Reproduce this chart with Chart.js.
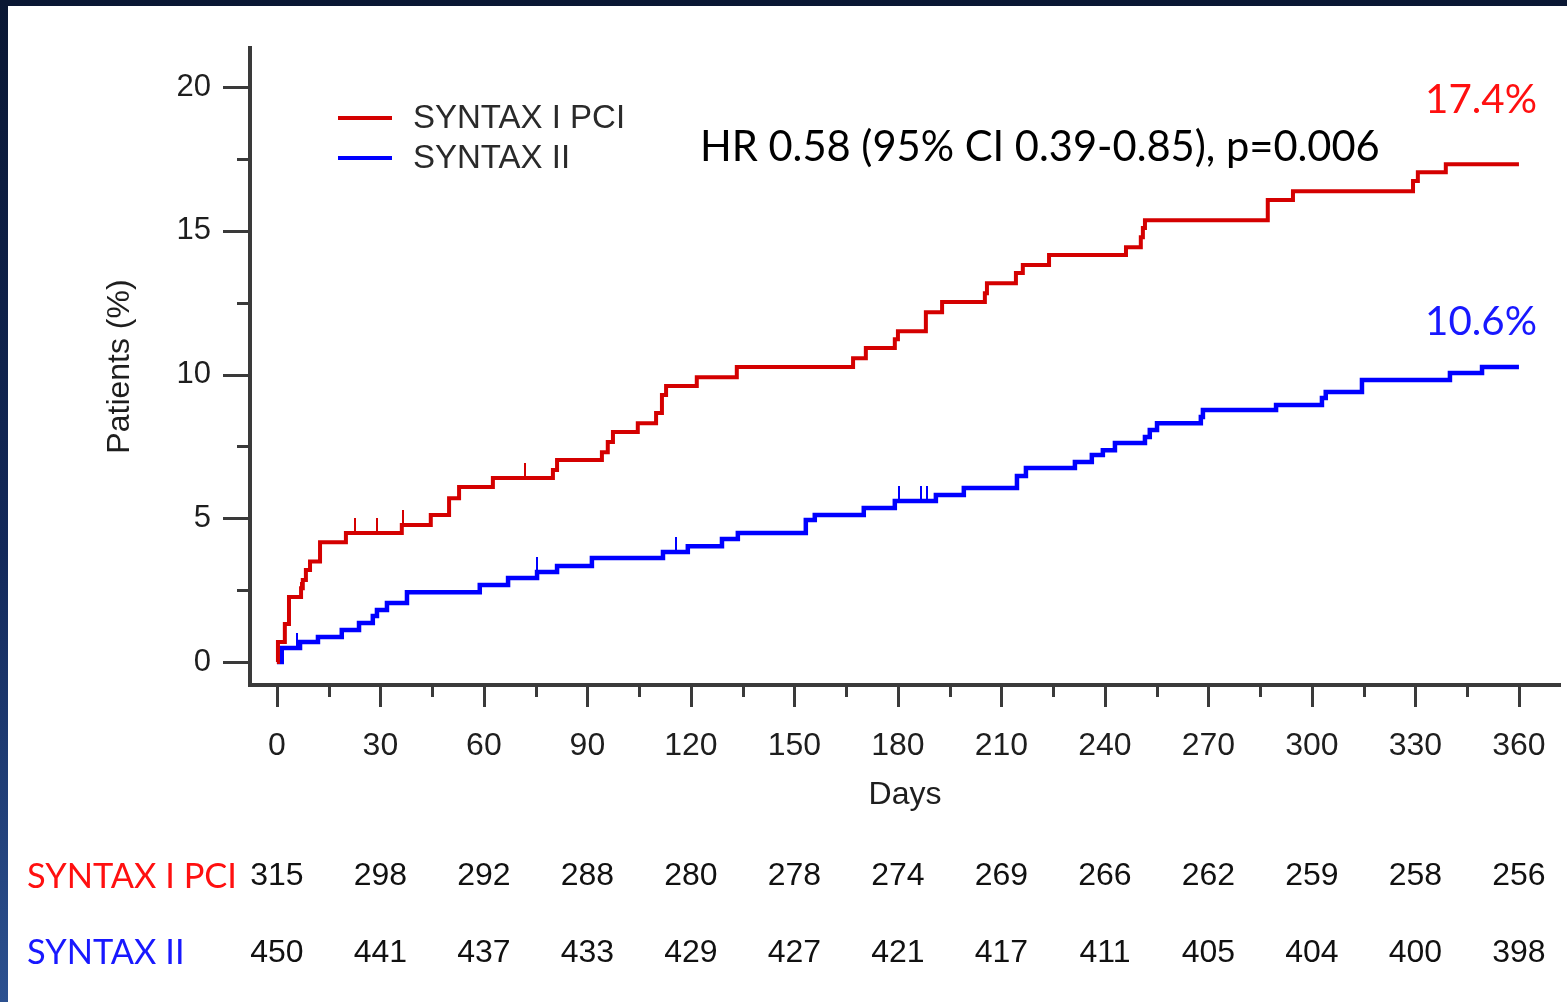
<!DOCTYPE html>
<html>
<head>
<meta charset="utf-8">
<script src="https://cdn.jsdelivr.net/npm/chart.js@4.4.0/dist/chart.umd.min.js"></script>
<style>
html, body { margin: 0; padding: 0; width: 1567px; height: 1002px; overflow: hidden; }
body { position: relative; background: linear-gradient(to bottom, #0a1733 0%, #13295a 55%, #2c5190 100%); }
#frame { position: absolute; left: 8px; top: 6px; width: 1559px; height: 996px; background: #fff; }
</style>
</head>
<body>
<div id="frame"><canvas id="kmChart"></canvas></div>
<script>
// Kaplan-Meier steps: day of each event, cumulative % after it
const redDays = [0, 0.3, 2.3, 3.5, 7.0, 7.5, 8.4, 9.6, 12.5, 20.0, 36.2, 44.6, 49.9, 52.8, 62.6,
    80.0, 81.2, 94.2, 95.9, 97.4, 104.6, 109.9, 111.6, 112.8, 121.7, 133.3, 167.0, 170.7, 179.1,
    180.0, 188.1, 192.8, 205.2, 205.8, 214.2, 216.2, 223.8, 246.1, 250.4, 251.0, 251.6, 287.2,
    294.5, 329.3, 330.7, 338.8, 360];
const redPct = [0, 0.70, 1.32, 2.26, 2.57, 2.85, 3.20, 3.50, 4.17, 4.49, 4.77, 5.11, 5.70, 6.09, 6.40,
    6.68, 7.03, 7.30, 7.65, 8.00, 8.31, 8.66, 9.29, 9.60, 9.91, 10.26, 10.57, 10.92, 11.23,
    11.51, 12.17, 12.52, 12.83, 13.18, 13.53, 13.81, 14.16, 14.43, 14.78, 15.10, 15.37, 16.07,
    16.38, 16.73, 17.04, 17.32, 17.32];

const blueDays = [0, 1.4, 6.7, 11.9, 18.8, 23.8, 27.8, 29.0, 31.9, 37.7, 58.8, 67.0, 75.4, 81.2,
    91.3, 111.9, 119.1, 129.0, 133.6, 153.3, 155.9, 170.1, 179.1, 191.0, 199.1, 214.5, 217.1,
    231.3, 236.2, 239.4, 242.9, 251.6, 253.0, 255.1, 267.8, 268.4, 289.6, 302.9, 304.0, 314.5,
    340.0, 349.3, 360];
const bluePct = [0, 0.49, 0.70, 0.87, 1.11, 1.36, 1.60, 1.81, 2.05, 2.43, 2.68, 2.92, 3.13, 3.34,
    3.62, 3.83, 4.03, 4.28, 4.49, 4.94, 5.11, 5.36, 5.60, 5.81, 6.05, 6.47, 6.75,
    6.96, 7.20, 7.37, 7.62, 7.83, 8.07, 8.31, 8.52, 8.77, 8.94, 9.18, 9.39, 9.81,
    10.05, 10.26, 10.26];

// censored observations (small vertical marks)
const redCensorDays = [6.9, 22.6, 29.0, 36.5, 72.0];
const blueCensorDays = [5.8, 75.5, 115.7, 180.2, 186.8, 188.4];

const xTicks = [0, 15, 30, 45, 60, 75, 90, 105, 120, 135, 150, 165, 180, 195, 210, 225, 240, 255, 270, 285, 300, 315, 330, 345, 360];
const yTicks = [0, 2.5, 5, 7.5, 10, 12.5, 15, 17.5, 20];

// numbers at risk
const riskDays = [0, 30, 60, 90, 120, 150, 180, 210, 240, 270, 300, 330, 360];
const redAtRisk = [315, 298, 292, 288, 280, 278, 274, 269, 266, 262, 259, 258, 256];
const blueAtRisk = [450, 441, 437, 433, 429, 427, 421, 417, 411, 405, 404, 400, 398];

const seriesNames = ['SYNTAX I PCI', 'SYNTAX II'];
const hrText = 'HR 0.58 (95% CI 0.39-0.85), p=0.006';
const finalLabels = ['17.4%', '10.6%'];

const colors = {
    red: '#d40000',
    blue: '#0000ff',
    redText: '#ff1010',
    blueText: '#1818ff',
    axis: '#3a3a3a',
    text: '#1e1e1e'
};
const calibriLike = 'Lato, "Open Sans", sans-serif';
const arial = '"Liberation Sans", Arial, sans-serif';

function toPoints(days, pct) {
    return days.map((d, i) => ({ x: d, y: pct[i] }));
}

function levelAt(days, pct, day) {
    let v = 0;
    for (let i = 0; i < days.length; i++) {
        if (days[i] <= day) v = pct[i];
    }
    return v;
}

// a short vertical stroke drawn upward from the point
function censorMark(color) {
    const c = document.createElement('canvas');
    c.width = 2;
    c.height = 30;
    const g = c.getContext('2d');
    g.fillStyle = color;
    g.fillRect(0, 0, 2, 15);
    return c;
}

function fitSize(ctx, text, family, width) {
    ctx.font = '100px ' + family;
    return 100 * width / ctx.measureText(text).width;
}

// no extra room for overhanging labels: the plot box is fixed by layout padding
function noScalePadding(scale) {
    scale.paddingTop = 0;
    scale.paddingBottom = 0;
    scale.paddingLeft = 0;
    scale.paddingRight = 0;
}

const axisTicks = {
    id: 'axisTicks',
    afterDraw(chart) {
        const { ctx, chartArea, scales } = chart;
        ctx.save();
        ctx.strokeStyle = colors.axis;
        ctx.lineWidth = 3;
        ctx.beginPath();
        yTicks.forEach(v => {
            const y = Math.round(scales.y.getPixelForValue(v)) + 0.5;
            const len = v % 5 === 0 ? 27 : 13;
            ctx.moveTo(chartArea.left, y);
            ctx.lineTo(chartArea.left - len, y);
        });
        xTicks.forEach(v => {
            const x = Math.round(scales.x.getPixelForValue(v)) + 0.5;
            const len = v % 30 === 0 ? 22 : 12;
            ctx.moveTo(x, chartArea.bottom);
            ctx.lineTo(x, chartArea.bottom + len);
        });
        ctx.stroke();
        ctx.restore();
    }
};

const annotations = {
    id: 'annotations',
    afterDraw(chart) {
        const { ctx, scales } = chart;
        ctx.save();

        // legend
        const legendRows = [112, 152];
        chart.data.datasets.slice(0, 2).forEach((ds, i) => {
            ctx.strokeStyle = ds.borderColor;
            ctx.lineWidth = 4;
            ctx.beginPath();
            ctx.moveTo(330, legendRows[i]);
            ctx.lineTo(384, legendRows[i]);
            ctx.stroke();
            ctx.fillStyle = '#2a2a2a';
            ctx.font = '33px ' + arial;
            ctx.textBaseline = 'middle';
            ctx.textAlign = 'left';
            ctx.fillText(ds.label, 405, legendRows[i] + 1);
        });

        // hazard ratio
        ctx.fillStyle = '#000';
        ctx.font = fitSize(ctx, hrText, calibriLike, 680) + 'px ' + calibriLike;
        ctx.fillText(hrText, 692, 142);

        // final percentages
        const pSize = fitSize(ctx, finalLabels[0], calibriLike, 112);
        ctx.font = pSize + 'px ' + calibriLike;
        ctx.fillStyle = colors.redText;
        ctx.fillText(finalLabels[0], 1417, 94);
        ctx.fillStyle = colors.blueText;
        ctx.fillText(finalLabels[1], 1417, 316);

        // numbers at risk
        const nSize = fitSize(ctx, seriesNames[0], calibriLike, 210);
        ctx.font = nSize + 'px ' + calibriLike;
        ctx.fillStyle = colors.redText;
        ctx.fillText(seriesNames[0], 19, 871);
        ctx.fillStyle = colors.blueText;
        ctx.fillText(seriesNames[1], 19, 947);

        ctx.font = '32px ' + arial;
        ctx.fillStyle = '#111';
        ctx.textAlign = 'center';
        riskDays.forEach((d, i) => {
            const x = scales.x.getPixelForValue(d);
            ctx.fillText(String(redAtRisk[i]), x, 870);
            ctx.fillText(String(blueAtRisk[i]), x, 947);
        });
        ctx.restore();
    }
};

const stepLine = {
    type: 'line',
    stepped: true,
    tension: 0,
    pointRadius: 0,
    fill: false,
    borderCapStyle: 'butt',
    borderJoinStyle: 'miter'
};

const censorPoints = {
    type: 'line',
    showLine: false,
    pointRadius: 1,
    pointHoverRadius: 1
};

new Chart(document.getElementById('kmChart'), {
    type: 'line',
    data: {
        datasets: [
            {
                ...stepLine,
                label: seriesNames[0],
                data: toPoints(redDays, redPct),
                borderColor: colors.red,
                borderWidth: 4
            },
            {
                ...stepLine,
                label: seriesNames[1],
                data: toPoints(blueDays, bluePct),
                borderColor: colors.blue,
                borderWidth: 4.5
            },
            {
                ...censorPoints,
                label: 'censored I',
                data: redCensorDays.map(d => ({ x: d, y: levelAt(redDays, redPct, d) })),
                pointStyle: censorMark(colors.red)
            },
            {
                ...censorPoints,
                label: 'censored II',
                data: blueCensorDays.map(d => ({ x: d, y: levelAt(blueDays, bluePct, d) })),
                pointStyle: censorMark(colors.blue)
            }
        ]
    },
    options: {
        responsive: true,
        maintainAspectRatio: false,
        animation: false,
        layout: { padding: { left: 0, right: 7, top: 42, bottom: 0 } },
        plugins: {
            legend: { display: false },
            tooltip: { enabled: false }
        },
        scales: {
            x: {
                type: 'linear',
                min: -7.8,
                max: 371.9,
                afterBuildTicks(scale) {
                    scale.ticks = xTicks.map(v => ({ value: v }));
                },
                afterFit(scale) {
                    scale.height = 317;
                    noScalePadding(scale);
                },
                grid: { display: false, drawTicks: false },
                border: { display: true, color: colors.axis, width: 4 },
                ticks: {
                    autoSkip: false,
                    maxRotation: 0,
                    padding: 42,
                    color: colors.text,
                    font: { family: arial, size: 32 },
                    callback: v => (v % 30 === 0 ? String(v) : '')
                },
                title: {
                    display: true,
                    text: 'Days',
                    color: colors.text,
                    font: { family: arial, size: 32 },
                    padding: { top: 0, bottom: 188 }
                }
            },
            y: {
                min: -0.8,
                max: 21.36,
                afterBuildTicks(scale) {
                    scale.ticks = yTicks.map(v => ({ value: v }));
                },
                afterFit(scale) {
                    scale.width = 242;
                    noScalePadding(scale);
                },
                grid: { display: false, drawTicks: false },
                border: { display: true, color: colors.axis, width: 4 },
                ticks: {
                    padding: 39,
                    color: colors.text,
                    font: { family: arial, size: 31 },
                    callback: v => (v % 5 === 0 ? String(v) : '')
                },
                title: {
                    display: true,
                    text: 'Patients (%)',
                    color: colors.text,
                    font: { family: arial, size: 32 },
                    padding: { top: 93, bottom: 0 }
                }
            }
        }
    },
    plugins: [axisTicks, annotations]
});
</script>
</body>
</html>
